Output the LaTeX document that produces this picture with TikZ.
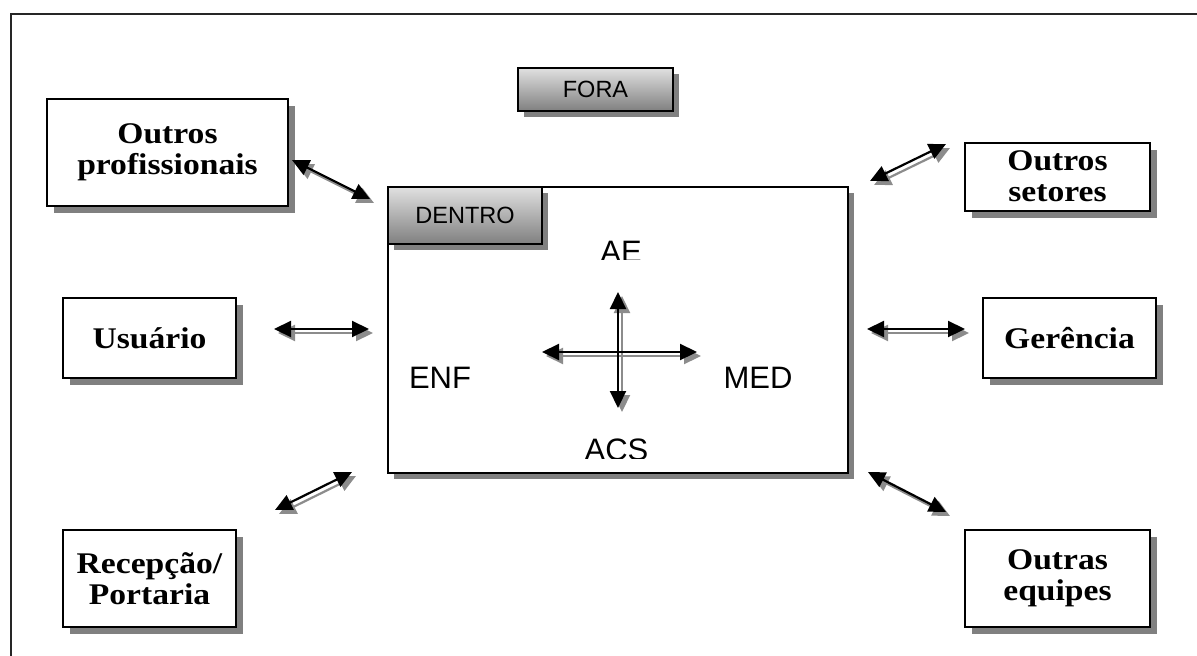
\documentclass[tikz,border=0pt]{standalone}
\usepackage{fontspec}
\setmainfont{Liberation Serif}[FakeStretch=1.12]
\newfontfamily\arialfont{Liberation Sans}
\usetikzlibrary{shadows,arrows.meta}

\begin{document}
\begin{tikzpicture}[x=1pt,y=-1pt,
  actor/.style={draw=black, line width=2pt, fill=white, inner sep=0pt, align=center,
    font=\fontsize{30}{31}\selectfont\bfseries,
    drop shadow={shadow xshift=7pt, shadow yshift=-7pt, fill=black!50, opacity=1}},
  area/.style={draw=black, line width=1.6pt, fill=white, inner sep=0pt,
    drop shadow={shadow xshift=6pt, shadow yshift=-6pt, fill=black!50, opacity=1}},
  tab/.style={draw=black, line width=1.6pt, inner sep=0pt, shading=axis,
    top color=black!12, bottom color=black!50,
    font=\arialfont\fontsize{23.5}{25}\selectfont,
    drop shadow={shadow xshift=6pt, shadow yshift=-6pt, fill=black!50, opacity=1}},
  role/.style={inner sep=0pt, anchor=base, font=\arialfont\fontsize{31}{33}\selectfont},
  link/.style={line width=2.2pt, {Triangle[length=17pt,width=16pt]}-{Triangle[length=17pt,width=16pt]}},
  linkshade/.style={link, draw=black!45, fill=black!45,
    transform canvas={xshift=4pt,yshift=-4pt}}
]
\useasboundingbox (0,0) rectangle (1197,656);

% page frame
\draw[line width=2pt, black!85] (11,660) -- (11,14) -- (1200,14);

% the team area and its label tabs
\node[area, minimum width=460pt, minimum height=286pt] (mainbox) at (618,330) {};
\node[tab, minimum width=155pt, minimum height=43pt] (fora) at (595.5,89.5) {FORA};
\node[tab, minimum width=154pt, minimum height=57pt] (dentro) at (465,215.5) {DENTRO};

% professionals inside the team
\node[role] (enf) at (440,388) {ENF};
\node[role] (med) at (758,388) {MED};
\begin{scope}
  \clip (560,230) rectangle (680,259);
  \node[role] (ae) at (621,262) {AE};
\end{scope}
\begin{scope}
  \clip (560,430) rectangle (680,458);
  \node[role] (acs) at (616.5,460.5) {ACS};
\end{scope}

% outside actors
\node[actor, minimum width=241pt, minimum height=107pt] (prof) at (167.5,152.5) {Outros\\profissionais};
\node[actor, minimum width=173pt, minimum height=80pt] (usu) at (149.5,338) {Usuário};
\node[actor, minimum width=173pt, minimum height=97pt] (rec) at (149.5,578.5) {Recepção/\\Portaria};
\node[actor, minimum width=185pt, minimum height=68pt] (set) at (1057.5,176.5) {Outros\\setores};
\node[actor, minimum width=173pt, minimum height=80pt] (ger) at (1069.5,338) {Gerência};
\node[actor, minimum width=185pt, minimum height=97pt] (equ) at (1057.5,578.5) {Outras\\equipes};

% free ends of the two-way links
\coordinate (op1) at (292,160);  \coordinate (op2) at (370,199);
\coordinate (us1) at (274,329);  \coordinate (us2) at (369,329);
\coordinate (re1) at (275,510);  \coordinate (re2) at (352,472);
\coordinate (os1) at (870,181);  \coordinate (os2) at (946,144);
\coordinate (ge1) at (867,329);  \coordinate (ge2) at (965,329);
\coordinate (oe1) at (868,472);  \coordinate (oe2) at (946,512);
\coordinate (cw) at (542,352);   \coordinate (ce) at (697,352);
\coordinate (cn) at (618,292);   \coordinate (cs) at (618,408);

% shadows first, then the black links
\foreach \a/\b in {op1/op2, us1/us2, re1/re2, os1/os2, ge1/ge2, oe1/oe2, cw/ce, cn/cs}
  \draw[linkshade] (\a) -- (\b);
\foreach \a/\b in {op1/op2, us1/us2, re1/re2, os1/os2, ge1/ge2, oe1/oe2, cw/ce, cn/cs}
  \draw[link] (\a) -- (\b);
\end{tikzpicture}
\end{document}
